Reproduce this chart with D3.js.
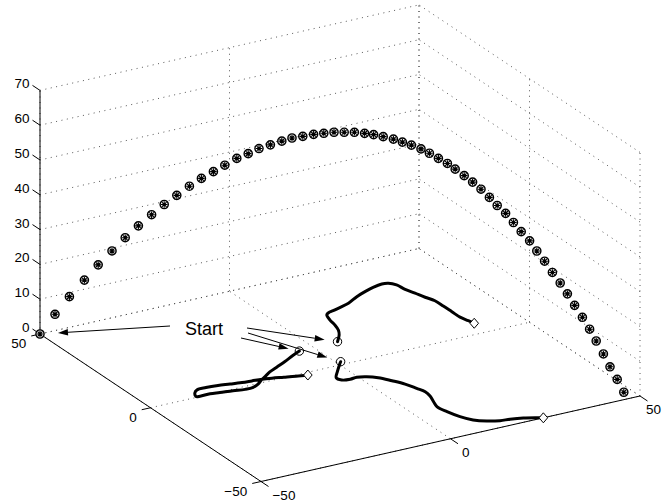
<!DOCTYPE html>
<html>
<head>
<meta charset="utf-8">
<script src="https://cdn.jsdelivr.net/npm/d3@7"></script>
<style>
  body { margin: 0; background: #fff; }
  svg { display: block; }
  text { font-family: "Liberation Sans", Arial, Helvetica, sans-serif; fill: #000; }
</style>
</head>
<body>
<svg id="chart" width="662" height="502"></svg>
<script>
// ---- Axis ticks ----
const xTicks = [-50, 0, 50];
const yTicks = [-50, 0, 50];
const zTicks = [0, 10, 20, 30, 40, 50, 60, 70];

// ---- Ballistic trajectory (sampled at equal time steps) ----
const ballX = [-50,-47.5,-45.1,-42.6,-40.3,-38,-35.8,-33.6,-31.4,-29.3,
  -27.2,-25.1,-23.1,-21.1,-19.2,-17.2,-15.3,-13.5,-11.6,-9.7,
  -8,-6.2,-4.4,-2.7,-1,0.7,2.4,4.1,5.6,7.2,
  8.9,10.4,11.9,13.5,14.9,16.4,17.9,19.2,20.7,22.1,
  23.5,24.9,26.2,27.6,28.9,30.2,31.6,32.8,34.1,35.4,
  36.7,37.9,39.1,40.4,41.6,42.7,43.9,45,46.2,47.3];
const ballY = [50,47.5,45.1,42.6,40.3,38,35.8,33.6,31.4,29.3,
  27.2,25.1,23.1,21.1,19.2,17.2,15.3,13.5,11.6,9.7,
  8,6.2,4.4,2.7,1,-0.7,-2.4,-4.1,-5.6,-7.2,
  -8.9,-10.4,-11.9,-13.5,-14.9,-16.4,-17.9,-19.2,-20.7,-22.1,
  -23.5,-24.9,-26.2,-27.6,-28.9,-30.2,-31.6,-32.8,-34.1,-35.4,
  -36.7,-37.9,-39.1,-40.4,-41.6,-42.7,-43.9,-45,-46.2,-47.3];
const ballZ = [0,6.1,11.6,16.8,21.6,26,30.2,34,37.6,40.9,
  43.9,46.9,49.5,51.8,54,56.3,58,59.8,61.2,62.6,
  63.8,64.6,65.5,66.1,66.7,67,67.3,67.3,67.2,66.9,
  66.5,65.9,65.3,64.5,63.5,62.3,61.1,59.7,58.1,56.5,
  54.7,52.6,50.5,48.5,46.1,43.7,41.3,38.6,35.9,32.9,
  30.1,27.2,24.1,20.9,17.7,14.5,11,7.5,4.1,0.6];

// ---- Ground tracks (z = 0) ----
const track1X = [-3.9,-6.5,-9.8,-13,-15.9,-18.2,-19.7,-21.8,-23.7,-25.9,-28.7,-31.8,-34.1,-36.8,
  -37.7,-36.9,-35.6,-33.1,-30.1,-27.3,-24.5,-22.1,-19.6,-17.3,-14.7,-12,-9.3];
const track1Y = [11.7,10.2,8.1,6.2,4.5,2.7,1.6,-0.3,-1.4,-1.5,-0.8,-0.2,0.3,0.2,
  0.5,2.4,3.7,3.9,3.6,2.9,2.3,2,1.7,1.1,0.2,-0.7,-1.4];
const track2X = [6.4,8.7,10,10.8,11.3,12.2,13.2,14.7,17.1,19.9,23.5,26.6,29.5,32.2,
  33.7,34.8,35.2,36,36.8,37.7,37.8,37.8,37.8,38.4,38.8];
const track2Y = [12.1,15.3,17.9,20.8,23.9,26.9,27.8,28.3,29.2,30.3,32.7,34.3,35.6,36.3,
  35.9,34.1,30.9,27.8,24.6,21.7,18.1,14.2,10.5,7.8,5.8];
const track3X = [1.1,-0.1,-2.5,-4.5,-4.1,-2.2,-0.3,1.8,3.8,5.6,7.2,8.2,8.9,8.6,
  7.6,6.8,7.3,8.4,10,12.4,15.1,17.5,20.5,23.2,24.5];
const track3Y = [1.6,0.1,-3.1,-6,-7.8,-8.4,-8.1,-9,-10.8,-13.9,-17.1,-20.6,-23.3,-26,
  -29.3,-32.2,-35.9,-39.9,-43.1,-45.2,-46.5,-46.9,-47.8,-49.2,-50];

const annotation = "Start";

// ---- Projection: each data axis maps to a screen offset vector ----
const width = 662;
const svg = d3.select("#chart");
const origin = [261, 481.5];                 // screen position of (-50, -50, 0)
const xProj = d3.scaleLinear().domain([-50, 50]).range([[0, 0], [379, -85.5]]);
const yProj = d3.scaleLinear().domain([-50, 50]).range([[0, 0], [-221, -147.5]]);
const zProj = d3.scaleLinear().domain([0, 70]).range([[0, 0], [0, -243.6]]);

function P(x, y, z) {
  const a = xProj(x), ax = a[0], ay = a[1];
  const b = yProj(y), bx = b[0], by = b[1];
  const c = zProj(z), cx = c[0], cy = c[1];
  return [origin[0] + ax + bx + cx, origin[1] + ay + by + cy];
}
function unit(v) { const l = Math.hypot(v[0], v[1]); return [v[0] / l, v[1] / l]; }

const [xMin, xMax] = xProj.domain();
const [yMin, yMax] = yProj.domain();
const [zMin, zMax] = zProj.domain();

// ---- Dotted grid on floor and the two back walls ----
const gridSegs = [];
xTicks.forEach(v => gridSegs.push([P(v, yMin, zMin), P(v, yMax, zMin)]));
yTicks.forEach(v => gridSegs.push([P(xMin, v, zMin), P(xMax, v, zMin)]));
zTicks.forEach(v => gridSegs.push([P(xMin, yMax, v), P(xMax, yMax, v)]));
xTicks.forEach(v => gridSegs.push([P(v, yMax, zMin), P(v, yMax, zMax)]));
zTicks.forEach(v => gridSegs.push([P(xMax, yMin, v), P(xMax, yMax, v)]));
yTicks.forEach(v => gridSegs.push([P(xMax, v, zMin), P(xMax, v, zMax)]));

svg.append("g").selectAll("line").data(gridSegs).join("line")
  .attr("x1", d => d[0][0]).attr("y1", d => d[0][1])
  .attr("x2", d => d[1][0]).attr("y2", d => d[1][1])
  .attr("stroke", "#444").attr("stroke-width", 0.9)
  .attr("stroke-dasharray", "1 4.5");

// ---- Axis lines ----
const axisG = svg.append("g").attr("stroke", "#000").attr("stroke-width", 1);
const axisSegs = [
  [P(xMin, yMax, zMin), P(xMin, yMax, zMax)],
  [P(xMin, yMin, zMin), P(xMin, yMax, zMin)],
  [P(xMin, yMin, zMin), P(xMax, yMin, zMin)]
];
axisG.selectAll("line.ax").data(axisSegs).join("line").attr("class", "ax")
  .attr("x1", d => d[0][0]).attr("y1", d => d[0][1])
  .attr("x2", d => d[1][0]).attr("y2", d => d[1][1]);

const tickLen = 9;
const dirX = unit(xProj(xMax).slice());
const dirY = unit(yProj(yMax).slice());
const negY = [-dirY[0], -dirY[1]];
const negX = [-dirX[0], -dirX[1]];
const fmt = v => (v < 0 ? "\u2212" + Math.abs(v) : String(v));
const labelG = svg.append("g").attr("font-size", 13.5);

function drawTicks(vals, pos, dir, place) {
  vals.forEach(v => {
    const p = pos(v);
    const e = [p[0] + dir[0] * tickLen, p[1] + dir[1] * tickLen];
    axisG.append("line").attr("x1", p[0]).attr("y1", p[1]).attr("x2", e[0]).attr("y2", e[1]);
    const t = place(e);
    const txt = labelG.append("text").attr("x", t.x).attr("y", t.y)
      .attr("text-anchor", t.anchor).attr("dominant-baseline", "central").text(fmt(v));
    // keep labels inside the drawing area
    const bb = txt.node().getBBox();
    if (bb.x + bb.width > width - 1) txt.attr("x", t.x - (bb.x + bb.width - (width - 1)));
  });
}
drawTicks(xTicks, v => P(v, yMin, zMin), negY, e => ({ x: e[0] + 4, y: e[1] + 9, anchor: "start" }));
drawTicks(yTicks, v => P(xMin, v, zMin), negX, e => ({ x: e[0] - 5, y: e[1] + 8, anchor: "end" }));
drawTicks(zTicks, v => P(xMin, yMax, v), dirY, e => ({ x: e[0] - 3, y: e[1] - 1.5, anchor: "end" }));

// ---- Ground tracks ----
const tracks = [
  { x: track1X, y: track1Y },
  { x: track2X, y: track2Y },
  { x: track3X, y: track3Y }
].map(t => t.x.map((xv, i) => P(xv, t.y[i], 0)));

const line = d3.line().curve(d3.curveCatmullRom.alpha(0.5));
svg.append("g").selectAll("path").data(tracks).join("path")
  .attr("d", line).attr("fill", "none").attr("stroke", "#000")
  .attr("stroke-width", 3).attr("stroke-linejoin", "round").attr("stroke-linecap", "round");

// start circles and end diamonds
const markG = svg.append("g").attr("stroke", "#000").attr("stroke-width", 1);
tracks.forEach(t => {
  const s = t[0], e = t[t.length - 1];
  markG.append("circle").attr("cx", s[0]).attr("cy", s[1]).attr("r", 4.2).attr("fill", "none");
  markG.append("path")
    .attr("d", `M${e[0]},${e[1] - 5}L${e[0] + 4.3},${e[1]}L${e[0]},${e[1] + 5}L${e[0] - 4.3},${e[1]}Z`)
    .attr("fill", "#fff");
});

// ---- Ball markers: circle with an asterisk ----
const ballPts = ballX.map((xv, i) => P(xv, ballY[i], ballZ[i]));
const bm = svg.append("g").selectAll("g").data(ballPts).join("g")
  .attr("transform", d => `translate(${d[0]},${d[1]})`);
bm.append("circle").attr("r", 4.1).attr("fill", "#fff").attr("stroke", "#000").attr("stroke-width", 1.4);
const sp = 3.3, sd = sp * Math.SQRT1_2;
bm.append("path")
  .attr("d", `M${-sp},0L${sp},0M0,${-sp}L0,${sp}M${-sd},${-sd}L${sd},${sd}M${-sd},${sd}L${sd},${-sd}`)
  .attr("stroke", "#000").attr("stroke-width", 1.1);
bm.append("circle").attr("r", 1.6).attr("fill", "#000");

// ---- "Start" annotation with arrows ----
const textPos = [185, 335];
svg.append("text").attr("x", textPos[0]).attr("y", textPos[1])
  .attr("font-size", 18).text(annotation);

const arrows = [
  { tail: [textPos[0] - 15, textPos[1] - 9], target: ballPts[0], gap: 18 },
  { tail: [textPos[0] + 62, textPos[1] - 7], target: tracks[1][0], gap: 13 },
  { tail: [textPos[0] + 63, textPos[1] - 2], target: tracks[2][0], gap: 14 },
  { tail: [textPos[0] + 56, textPos[1] + 3], target: tracks[0][0], gap: 11 }
];
const arrG = svg.append("g");
arrows.forEach(a => {
  const d = unit([a.target[0] - a.tail[0], a.target[1] - a.tail[1]]);
  const tip = [a.target[0] - d[0] * a.gap, a.target[1] - d[1] * a.gap];
  const hl = 10, hw = 3.2;
  const base = [tip[0] - d[0] * hl, tip[1] - d[1] * hl];
  const n = [-d[1], d[0]];
  arrG.append("line").attr("x1", a.tail[0]).attr("y1", a.tail[1])
    .attr("x2", base[0]).attr("y2", base[1]).attr("stroke", "#000").attr("stroke-width", 1);
  arrG.append("path")
    .attr("d", `M${tip[0]},${tip[1]}L${base[0] + n[0] * hw},${base[1] + n[1] * hw}L${base[0] - n[0] * hw},${base[1] - n[1] * hw}Z`)
    .attr("fill", "#000");
});
</script>
</body>
</html>
